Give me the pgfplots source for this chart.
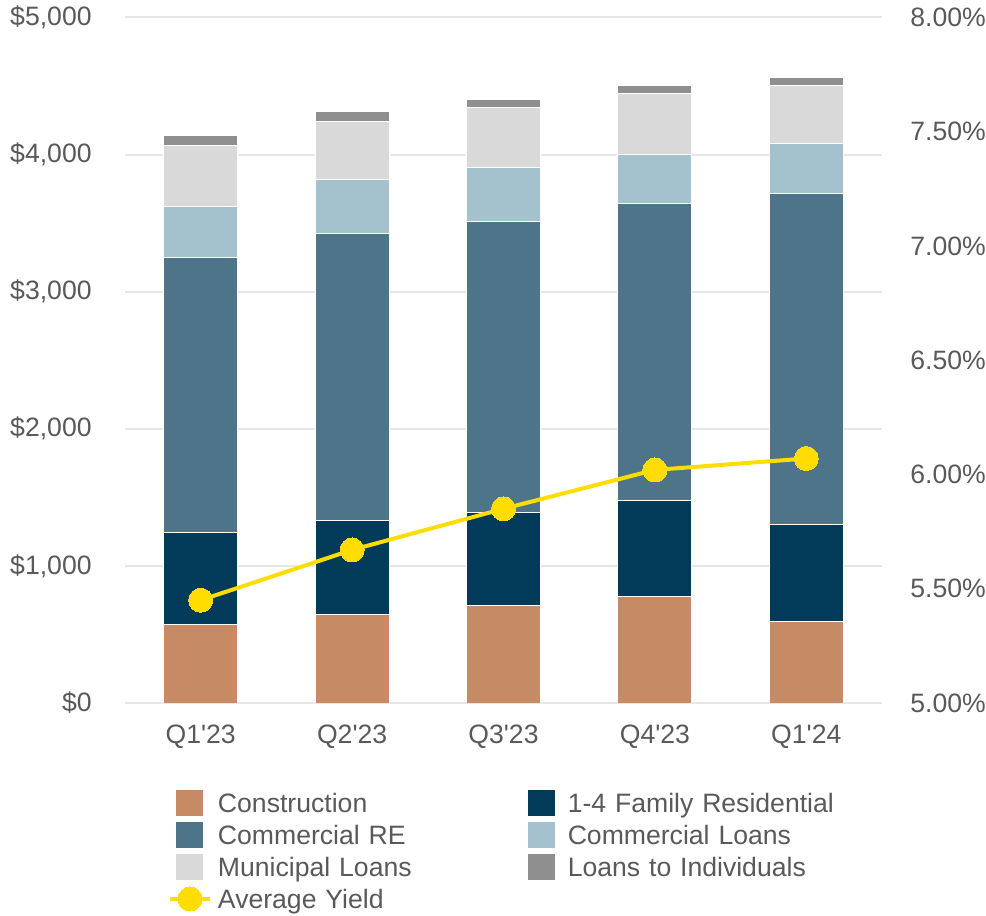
\documentclass[border=0pt]{standalone}
\usepackage{fontspec}
\setmainfont{Liberation Sans}
\usepackage{pgfplots}
\pgfplotsset{compat=1.18}
\definecolor{cons}{HTML}{C68B65}
\definecolor{resi}{HTML}{023A5A}
\definecolor{cre}{HTML}{4E7489}
\definecolor{cloan}{HTML}{A3C2CD}
\definecolor{muni}{HTML}{D9D9D9}
\definecolor{indiv}{HTML}{8F8F8F}
\definecolor{yieldc}{HTML}{FFDD00}
\definecolor{labelgray}{HTML}{595959}
\definecolor{gridgray}{HTML}{E6E6E6}
\newcommand{\lblfont}{\fontsize{13.3bp}{16bp}\selectfont}
\pgfplotsset{
  sqlegend/.style={legend image code/.code={%
    \path (0bp,0bp) (20bp,0bp);
    \fill[##1, draw=none] (3.25bp,-6.5bp) rectangle (16.75bp,6.5bp);}},
  common/.style={
    at={(0,0)}, anchor=south west,
    scale only axis, width=378.5bp, height=342.75bp,
    xmin=-0.5, xmax=4.5,
    axis line style={draw=none},
    major tick length=0pt,
    tick label style={font=\lblfont, text=labelgray, inner sep=0pt},
  }
}
\begin{document}
\begin{tikzpicture}
\path[use as bounding box] (-62.5bp,-106.5bp) rectangle (430.5bp,351.5bp);
\begin{axis}[common,
  ymin=0, ymax=5000,
  ybar stacked, bar width=0.49,
  ytick={0,1000,2000,3000,4000,5000},
  yticklabels={\$0,{\$1,000},{\$2,000},{\$3,000},{\$4,000},{\$5,000}},
  yticklabel style={anchor=east, xshift=-16.5bp},
  xtick={0,1,2,3,4},
  xticklabels={Q1\textquotesingle23,Q2\textquotesingle23,Q3\textquotesingle23,Q4\textquotesingle23,Q1\textquotesingle24},
  xticklabel style={anchor=north, yshift=-11bp},
  ymajorgrids, grid style={color=gridgray, line width=1bp},
  every axis plot/.append style={draw=white, line width=0.5bp},
]
\addplot[fill=cons] coordinates {(0,576) (1,649) (2,708) (3,780) (4,591)};
\addplot[fill=resi] coordinates {(0,669) (1,684) (2,683) (3,699) (4,712)};
\addplot[fill=cre] coordinates {(0,2003) (1,2090) (2,2120) (3,2163) (4,2412)};
\addplot[fill=cloan] coordinates {(0,377) (1,392) (2,394) (3,362) (4,365)};
\addplot[fill=muni] coordinates {(0,443) (1,425) (2,440) (3,443) (4,423)};
\addplot[fill=indiv] coordinates {(0,73) (1,72) (2,58) (3,58) (4,61)};
\end{axis}
\begin{axis}[common,
  ymin=5, ymax=8,
  hide x axis,
  axis y line*=right,
  ytick={5,5.5,6,6.5,7,7.5,8},
  yticklabels={5.00\%,5.50\%,6.00\%,6.50\%,7.00\%,7.50\%,8.00\%},
  yticklabel style={anchor=west, xshift=14bp},
  legend columns=2,
  legend cell align=left,
  legend style={at={(0.0568,-0.1225)}, anchor=north west, draw=none, fill=none,
    inner sep=0pt, outer sep=0pt, font=\lblfont, text=labelgray,
    /tikz/column sep=0pt, /tikz/row sep=0pt,
    /tikz/every odd column/.append style={column sep=3bp},
    nodes={inner sep=0pt, text width=151.5bp, align=left, text height=12.8bp, text depth=3.2bp},
  },
  legend image code/.code={\draw[mark repeat=2,mark phase=2,#1] plot coordinates {(0bp,0bp) (10bp,0bp) (20bp,0bp)};},
]
\addlegendimage{sqlegend, fill=cons}
\addlegendentry{Construction}
\addlegendimage{sqlegend, fill=resi}
\addlegendentry{1-4 Family Residential}
\addlegendimage{sqlegend, fill=cre}
\addlegendentry{Commercial RE}
\addlegendimage{sqlegend, fill=cloan}
\addlegendentry{Commercial Loans}
\addlegendimage{sqlegend, fill=muni}
\addlegendentry{Municipal Loans}
\addlegendimage{sqlegend, fill=indiv}
\addlegendentry{Loans to Individuals}
\addplot[color=yieldc, line width=2bp, mark=*, mark size=6bp, mark options={fill=yieldc, draw=yieldc, line width=0pt}]
  coordinates {(0,5.45) (1,5.67) (2,5.85) (3,6.02) (4,6.07)};
\addlegendentry{Average Yield}
\end{axis}
\end{tikzpicture}
\end{document}
